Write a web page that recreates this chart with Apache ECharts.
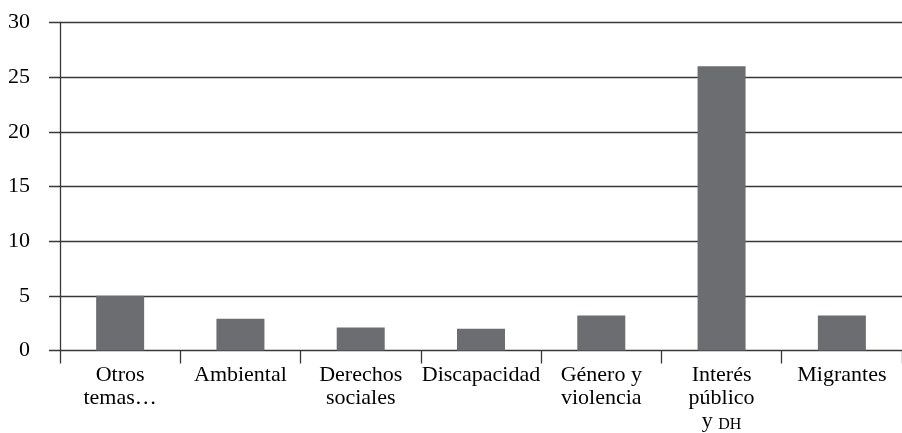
<!DOCTYPE html>
<html><head><meta charset="utf-8">
<script src="https://cdn.jsdelivr.net/npm/echarts@6/dist/echarts.min.js"></script>
<style>html,body{margin:0;padding:0;background:#fff}#c{width:902px;height:433px}</style>
</head><body><div id="c"></div>
<script>
const categories = ["Otros\ntemas…", "Ambiental", "Derechos\nsociales", "Discapacidad", "Género y\nviolencia", "Interés\npúblico\ny DH", "Migrantes"];
const values = [5, 2.9, 2.1, 2.0, 3.2, 26, 3.2];
const yTicks = [0, 5, 10, 15, 20, 25, 30];

const FONT = '"Liberation Serif", "DejaVu Serif", serif';
const LINE = '#383838';
const chart = echarts.init(document.getElementById('c'), null, {renderer: 'canvas'});
chart.setOption({
  animation: false,
  backgroundColor: '#ffffff',
  grid: [
    {left: 49, right: 0, top: 22.5, bottom: 82.5},
    {left: 60, right: 0, top: 22.5, bottom: 82.5}
  ],
  xAxis: [
    {gridIndex: 0, type: 'value', show: false, min: 0, max: 1},
    {gridIndex: 1, type: 'category', data: categories,
     axisLine: {show: false},
     axisTick: {show: true, length: 13, lineStyle: {color: LINE, width: 1.3}},
     axisLabel: {margin: 13, color: '#000', fontFamily: FONT, fontSize: 22, lineHeight: 23, interval: 0,
       formatter: v => v.replace('y DH', '{n|y }{sc|DH}'),
       rich: {
         n: {fontFamily: FONT, fontSize: 22, lineHeight: 23, color: '#000', verticalAlign: 'bottom'},
         sc: {fontFamily: FONT, fontSize: 16, lineHeight: 19, color: '#000', verticalAlign: 'bottom'}
       }}}
  ],
  yAxis: [
    {gridIndex: 0, type: 'value', min: yTicks[0], max: yTicks[yTicks.length-1], interval: 5,
     axisLine: {show: false}, axisTick: {show: false},
     axisLabel: {margin: 19, color: '#000', fontFamily: FONT, fontSize: 22},
     splitLine: {show: true, lineStyle: {color: LINE, width: 1.3}}},
    {gridIndex: 1, type: 'value', min: yTicks[0], max: yTicks[yTicks.length-1], interval: 5,
     axisLine: {show: true, lineStyle: {color: LINE, width: 1.3}}, axisTick: {show: false},
     axisLabel: {show: false}, splitLine: {show: false}}
  ],
  series: [{
    type: 'bar', xAxisIndex: 1, yAxisIndex: 1, data: values,
    barWidth: 48, itemStyle: {color: '#6c6d71'}
  }]
});
</script></body></html>
